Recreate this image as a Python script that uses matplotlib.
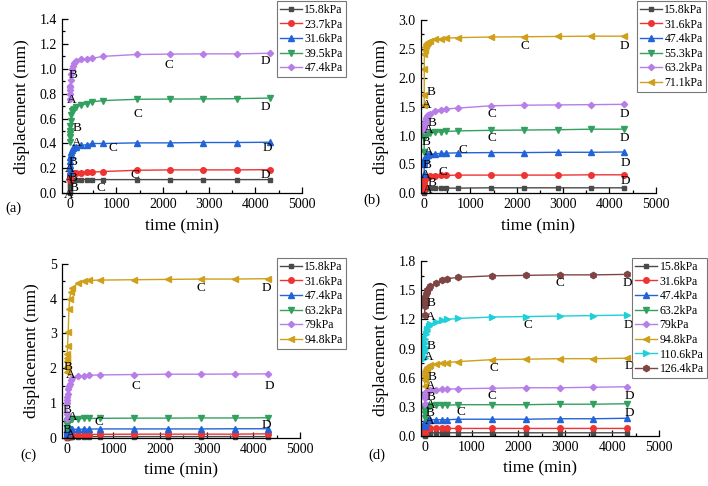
import matplotlib
matplotlib.use("Agg")
import matplotlib.pyplot as plt
from matplotlib.ticker import MultipleLocator

plt.rcParams["font.family"] = ["Liberation Serif", "DejaVu Serif"]
plt.rcParams["mathtext.fontset"] = "stix"

# elapsed time of each reading (min), shared by all load stages
times = [0, 1, 2, 4, 8, 15, 30, 45, 60, 90, 120, 240, 360, 480, 720,
         1440, 2160, 2880, 3600, 4320]

# ---- panel (a)
labels_a = ["15.8kPa", "23.7kPa", "31.6kPa", "39.5kPa", "47.4kPa"]
disp_a = [
    [0.00, 0.03, 0.05, 0.07, 0.09, 0.10, 0.105, 0.11, 0.11, 0.11, 0.11, 0.11, 0.11, 0.11, 0.11, 0.11, 0.11, 0.11, 0.11, 0.11],
    [0.11, 0.13, 0.14, 0.15, 0.155, 0.158, 0.16, 0.16, 0.162, 0.163, 0.165, 0.167, 0.168, 0.17, 0.175, 0.185, 0.188, 0.188, 0.188, 0.19],
    [0.17, 0.20, 0.23, 0.26, 0.29, 0.31, 0.33, 0.35, 0.36, 0.37, 0.375, 0.385, 0.39, 0.40, 0.40, 0.405, 0.405, 0.408, 0.408, 0.41],
    [0.41, 0.45, 0.48, 0.50, 0.54, 0.58, 0.63, 0.66, 0.67, 0.68, 0.69, 0.71, 0.72, 0.735, 0.745, 0.755, 0.757, 0.758, 0.76, 0.765],
    [0.76, 0.80, 0.83, 0.85, 0.86, 0.91, 0.96, 1.00, 1.02, 1.05, 1.06, 1.075, 1.08, 1.085, 1.10, 1.115, 1.118, 1.12, 1.12, 1.125],
]
ann_a = [("A", 36, 0.75), ("B", 71, 0.95), ("C", 2141, 1.03), ("D", 4212, 1.06),
         ("B", 143, 0.527), ("C", 1463, 0.64), ("D", 4212, 0.69),
         ("A", 143, 0.406), ("B", 71, 0.254), ("C", 927, 0.361), ("D", 4250, 0.361),
         ("A", 0, 0.195), ("C", 1392, 0.147), ("D", 4212, 0.147), ("A", -21, 0.107),
         ("B", 71, 0.12), ("B", 92, 0.045), ("A", -21, -0.014), ("C", 664, 0.045)]

# ---- panel (b)
labels_b = ["15.8kPa", "31.6kPa", "47.4kPa", "55.3kPa", "63.2kPa", "71.1kPa"]
disp_b = [
    [0.00, 0.02, 0.04, 0.06, 0.07, 0.08, 0.085, 0.09, 0.09, 0.09, 0.09, 0.09, 0.09, 0.09, 0.09, 0.095, 0.095, 0.095, 0.095, 0.095],
    [0.08, 0.13, 0.17, 0.21, 0.24, 0.26, 0.27, 0.28, 0.285, 0.29, 0.295, 0.30, 0.31, 0.31, 0.315, 0.315, 0.315, 0.315, 0.32, 0.32],
    [0.33, 0.50, 0.55, 0.58, 0.60, 0.62, 0.64, 0.65, 0.66, 0.67, 0.675, 0.685, 0.69, 0.695, 0.70, 0.705, 0.705, 0.71, 0.71, 0.715],
    [0.72, 0.96, 0.98, 0.99, 1.00, 1.01, 1.02, 1.025, 1.03, 1.04, 1.045, 1.055, 1.065, 1.07, 1.08, 1.09, 1.095, 1.10, 1.11, 1.11],
    [1.10, 1.12, 1.14, 1.17, 1.20, 1.24, 1.28, 1.31, 1.33, 1.36, 1.38, 1.43, 1.45, 1.46, 1.475, 1.515, 1.525, 1.53, 1.535, 1.54],
    [1.52, 1.70, 2.16, 2.42, 2.48, 2.53, 2.56, 2.58, 2.60, 2.62, 2.64, 2.665, 2.675, 2.685, 2.695, 2.705, 2.71, 2.715, 2.72, 2.72],
]
ann_b = [("A", 57, 1.53), ("B", 143, 1.76), ("C", 2177, 2.55), ("D", 4318, 2.55),
         ("B", 165, 1.21), ("A", 90, 1.09), ("C", 1463, 1.38), ("D", 4318, 1.38),
         ("B", 50, 0.89), ("C", 1463, 0.95), ("D", 4318, 0.95),
         ("A", 107, 0.71), ("B", 71, 0.49), ("C", 843, 0.75), ("D", 4350, 0.53),
         ("A", 36, 0.32), ("C", 414, 0.37), ("B", 165, 0.17), ("D", 4350, 0.21),
         ("A", 86, 0.06)]

# ---- panel (c)
labels_c = ["15.8kPa", "31.6kPa", "47.4kPa", "63.2kPa", "79kPa", "94.8kPa"]
disp_c = [
    [0.00, 0.01, 0.02, 0.03, 0.03, 0.04, 0.04, 0.04, 0.04, 0.04, 0.04, 0.04, 0.04, 0.04, 0.04, 0.04, 0.04, 0.04, 0.04, 0.04],
    [0.04, 0.06, 0.07, 0.08, 0.09, 0.09, 0.10, 0.10, 0.10, 0.10, 0.10, 0.10, 0.10, 0.10, 0.105, 0.11, 0.11, 0.11, 0.11, 0.12],
    [0.12, 0.16, 0.19, 0.21, 0.22, 0.23, 0.24, 0.24, 0.245, 0.25, 0.25, 0.25, 0.255, 0.255, 0.26, 0.26, 0.26, 0.26, 0.265, 0.265],
    [0.30, 0.38, 0.44, 0.48, 0.50, 0.52, 0.53, 0.54, 0.545, 0.55, 0.55, 0.555, 0.56, 0.56, 0.565, 0.57, 0.57, 0.575, 0.575, 0.58],
    [0.55, 0.70, 1.00, 1.10, 1.18, 1.25, 1.40, 1.50, 1.55, 1.65, 1.72, 1.77, 1.79, 1.80, 1.81, 1.82, 1.83, 1.83, 1.835, 1.84],
    [1.90, 2.05, 2.20, 2.30, 2.40, 2.65, 3.05, 3.70, 4.00, 4.20, 4.30, 4.45, 4.50, 4.52, 4.53, 4.54, 4.55, 4.56, 4.56, 4.57],
]
ann_c = [("C", 2866, 4.3), ("D", 4289, 4.3), ("B", 28, 2.03), ("A", 86, 1.81),
         ("C", 1472, 1.5), ("D", 4343, 1.5), ("B", 15, 0.79), ("A", 123, 0.59),
         ("C", 696, 0.46), ("D", 4289, 0.38), ("B", 15, 0.24), ("A", 86, 0.095)]

# ---- panel (d)
labels_d = ["15.8kPa", "31.6kPa", "47.4kPa", "63.2kPa", "79kPa", "94.8kPa",
            "110.6kPa", "126.4kPa"]
disp_d = [
    [0.00, 0.01, 0.02, 0.02, 0.025, 0.03, 0.03, 0.03, 0.03, 0.03, 0.03, 0.03, 0.03, 0.03, 0.03, 0.03, 0.03, 0.03, 0.03, 0.03],
    [0.03, 0.05, 0.06, 0.065, 0.07, 0.07, 0.075, 0.075, 0.075, 0.075, 0.075, 0.075, 0.075, 0.075, 0.075, 0.075, 0.075, 0.075, 0.075, 0.075],
    [0.10, 0.12, 0.13, 0.14, 0.145, 0.15, 0.155, 0.16, 0.16, 0.16, 0.165, 0.165, 0.165, 0.165, 0.17, 0.17, 0.17, 0.175, 0.175, 0.18],
    [0.18, 0.22, 0.25, 0.27, 0.29, 0.30, 0.305, 0.31, 0.31, 0.31, 0.31, 0.315, 0.315, 0.315, 0.32, 0.32, 0.32, 0.325, 0.325, 0.33],
    [0.33, 0.39, 0.41, 0.42, 0.43, 0.44, 0.45, 0.455, 0.46, 0.465, 0.47, 0.475, 0.48, 0.48, 0.485, 0.49, 0.495, 0.495, 0.50, 0.505],
    [0.51, 0.58, 0.61, 0.63, 0.65, 0.67, 0.69, 0.70, 0.71, 0.72, 0.725, 0.74, 0.75, 0.755, 0.765, 0.785, 0.79, 0.795, 0.795, 0.80],
    [0.80, 0.86, 0.89, 0.92, 0.96, 1.00, 1.05, 1.08, 1.10, 1.13, 1.15, 1.175, 1.19, 1.20, 1.21, 1.225, 1.23, 1.235, 1.24, 1.245],
    [1.25, 1.34, 1.36, 1.38, 1.41, 1.43, 1.46, 1.48, 1.50, 1.52, 1.54, 1.58, 1.605, 1.62, 1.635, 1.65, 1.655, 1.66, 1.66, 1.665],
]
ann_d = [("C", 2891, 1.576), ("D", 4318, 1.576), ("B", 128, 1.37), ("A", 128, 1.22),
         ("C", 2199, 1.14), ("D", 4340, 1.14), ("B", 128, 0.93), ("A", 86, 0.81),
         ("C", 1484, 0.70), ("D", 4360, 0.716), ("B", 165, 0.61), ("A", 128, 0.51),
         ("C", 1428, 0.406), ("D", 4360, 0.41), ("B", 128, 0.40), ("A", 128, 0.32),
         ("C", 771, 0.245), ("D", 4360, 0.237), ("B", 107, 0.234), ("A", 107, 0.155)]

# Origin-like style cycle
colors = ["#4a4a4a", "#ee3333", "#2264d8", "#33a060", "#b87ee8", "#cfa01a",
          "#1fd0d8", "#7f4545"]
markers = ["s", "o", "^", "v", "D", "<", ">", "h"]
msizes = [3.5, 4, 4.5, 4.5, 3.2, 4.5, 4.5, 4.5]


def draw_panel(rect, labels, disp, ann, ylim, ystep, xmin, legend_xy, tag, tag_xy):
    ax = fig.add_axes(rect)
    for i, (lab, ys) in enumerate(zip(labels, disp)):
        ax.plot(times, ys, color=colors[i], marker=markers[i], ms=msizes[i],
                lw=1.0, label=lab, clip_on=False)
    for letter, x, y in ann:
        ax.text(x, y, letter, ha="center", va="center", fontsize=9.5, clip_on=False)

    ax.set_xlim(xmin, 5000)
    ax.set_ylim(*ylim)
    ax.xaxis.set_major_locator(MultipleLocator(1000))
    ax.xaxis.set_minor_locator(MultipleLocator(500))
    ax.yaxis.set_major_locator(MultipleLocator(ystep))
    ax.yaxis.set_minor_locator(MultipleLocator(ystep / 2))
    if ystep < 1:
        ax.yaxis.set_major_formatter(plt.FuncFormatter(lambda v, _: f"{v:.1f}"))
    ax.tick_params(which="both", direction="in", labelsize=10, width=0.9)
    ax.tick_params(which="major", length=4)
    ax.tick_params(which="minor", length=2.5)
    for s in ("top", "right"):
        ax.spines[s].set_visible(False)
    for s in ("left", "bottom"):
        ax.spines[s].set_linewidth(0.9)
    ax.set_xlabel("time (min)", fontsize=12.5, labelpad=5)
    ax.set_ylabel("displacement (mm)", fontsize=12.5, labelpad=7)

    leg = ax.legend(loc="upper left", bbox_to_anchor=legend_xy,
                    bbox_transform=fig.transFigure, fontsize=8.5, frameon=True,
                    fancybox=False, edgecolor="#555555", borderpad=0.25,
                    labelspacing=0.22, handlelength=1.9, handletextpad=0.2,
                    borderaxespad=0)
    leg.get_frame().set_linewidth(0.8)
    fig.text(tag_xy[0], tag_xy[1], tag, fontsize=10.5, ha="center", va="center")
    return ax


fig = plt.figure(figsize=(7.08, 4.86), dpi=100)
W, H = 708, 486


def r(l, rt, top, bot):
    return [l / W, 1 - bot / H, (rt - l) / W, (bot - top) / H]


draw_panel(r(61.7, 301.7, 19, 193.3), labels_a, disp_a, ann_a, (0, 1.4), 0.2, -180,
           (276.7 / W, 1 - 1 / H), "(a)", (13 / W, 1 - 208 / H))
draw_panel(r(420.7, 655.7, 20, 193.3), labels_b, disp_b, ann_b, (0, 3.0), 0.5, -75,
           (636.7 / W, 1 - 1 / H), "(b)", (372 / W, 1 - 200 / H))
draw_panel(r(61.7, 300, 263.7, 438), labels_c, disp_c, ann_c, (0, 5), 1, -110,
           (276.7 / W, 1 - 258 / H), "(c)", (28 / W, 1 - 455 / H))
draw_panel(r(420.7, 659, 261.3, 435.7), labels_d, disp_d, ann_d, (0, 1.8), 0.3, -85,
           (632 / W, 1 - 258 / H), "(d)", (377 / W, 1 - 455 / H))

fig.savefig("out.png", dpi=100)
